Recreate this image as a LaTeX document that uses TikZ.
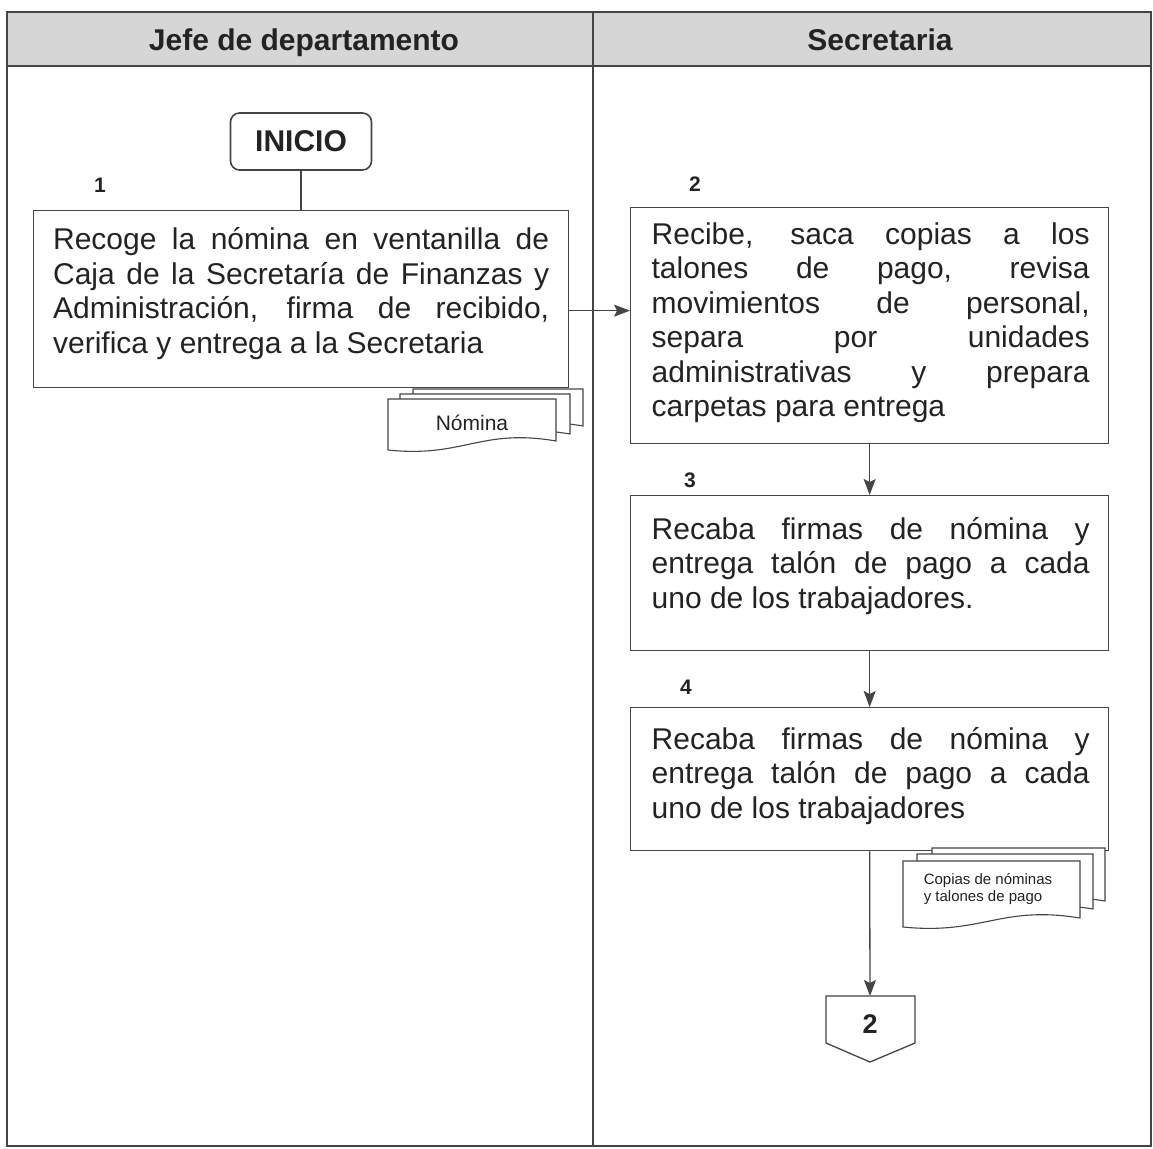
\documentclass[tikz,border=0pt]{standalone}
\usepackage{fontspec}
\setmainfont{Liberation Sans}
\usetikzlibrary{arrows.meta}
\definecolor{ink}{HTML}{454545}
\definecolor{txt}{HTML}{232323}
\definecolor{hdr}{HTML}{D6D6D6}
\newcommand\docsheet[4]{% L, T, R, B (bottom at left)
  \filldraw[fill=white, draw=ink, line width=1.1pt]
    (#1,#2) -- (#3,#2) -- (#3,#4-9)
    .. controls ({#1+0.55*(#3-#1)},#4-22) and ({#1+0.45*(#3-#1)},#4+8) .. (#1,#4) -- cycle;}
\begin{document}
\begin{tikzpicture}[x=1pt,y=-1pt,
  frame/.style={draw=ink, line width=1.4pt},
  box/.style={rectangle, draw=ink, line width=1.3pt, fill=white, anchor=north west, inner sep=0pt},
  boxtxt/.style={align=justify, inner sep=0pt, text=txt, font=\fontsize{30}{34.5}\selectfont},
  hdrtxt/.style={font=\fontsize{30}{34}\selectfont\bfseries, text=txt, anchor=base},
  num/.style={font=\fontsize{21}{24}\selectfont\bfseries, text=txt},
  arrow/.style={draw=ink, line width=1.3pt, -{Stealth[length=16pt,width=12pt,inset=3pt]}},
  conn/.style={draw=ink, line width=1.3pt}
]
\useasboundingbox (0,0) rectangle (1153,1148);
% lanes
\fill[hdr] (7,12) rectangle (1152,66);
\draw[frame] (7,12) rectangle (1151,1146);
\draw[frame] (7,66) -- (1151,66);
\draw[frame] (593,12) -- (593,1146);
\node[hdrtxt] (h1) at (304,51) {Jefe de departamento};
\node[hdrtxt] (h2) at (880,51) {Secretaria};

% start
\node[rectangle, rounded corners=9pt, draw=ink, line width=1.6pt, minimum width=141pt,
  minimum height=57pt, font=\fontsize{30}{34}\selectfont\bfseries, text=txt]
  (inicio) at (301,141.5) {INICIO};

% step 1
\node[num] (n1) at (100,185) {1};
\node[box, minimum width=535pt, minimum height=177pt] (b1) at (33,210) {};
\node[boxtxt, text width=496pt] (t1) at ([yshift=5.5pt]b1.center)
  {Recoge la nómina en ventanilla de\linebreak Caja de la Secretaría de Finanzas y\linebreak Administración, firma de recibido,\linebreak verifica y entrega a la Secretaria};

\docsheet{413}{389}{583}{435}
\docsheet{400}{394}{570}{443}
\docsheet{388}{399}{556}{450}
\node[font=\fontsize{21}{24}\selectfont, text=txt] (nom) at (472,423) {Nómina};

% step 2
\node[num] (n2) at (695,184) {2};
\node[box, minimum width=478pt, minimum height=236pt] (b2) at (630,207) {};
\node[boxtxt, text width=438pt] (t2) at ([xshift=1pt,yshift=3pt]b2.center)
  {Recibe, saca copias a los\linebreak talones de pago, revisa\linebreak movimientos de personal,\linebreak separa por unidades\linebreak administrativas y prepara\linebreak carpetas para entrega};

% step 3
\node[num] (n3) at (690,480) {3};
\node[box, minimum width=478pt, minimum height=155pt] (b3) at (630,495) {};
\node[boxtxt, text width=438pt] (t3) at ([xshift=1pt,yshift=7.5pt]b3.center)
  {Recaba firmas de nómina y\linebreak entrega talón de pago a cada\linebreak uno de los trabajadores.};

% step 4
\node[num] (n4) at (686,687) {4};
\node[box, minimum width=478pt, minimum height=143pt] (b4) at (630,707) {};
\node[boxtxt, text width=438pt] (t4) at ([xshift=1pt,yshift=3.5pt]b4.center)
  {Recaba firmas de nómina y\linebreak entrega talón de pago a cada\linebreak uno de los trabajadores};

\docsheet{932}{848}{1105}{910}
\docsheet{917}{854}{1093}{918}
\docsheet{903}{861}{1080}{927}
\node[font=\fontsize{15}{17}\selectfont, text=txt, align=left] (cop) at (988,889)
  {Copias de nóminas\\y talones de pago};

% off-page connector
\draw[conn, fill=white] (826,996) -- (915,996) -- (915,1043) -- (870,1062) -- (826,1043) -- cycle;
\coordinate (c2top) at (870,996);
\node[font=\fontsize{27}{30}\selectfont\bfseries, text=txt] (c2) at (870,1024) {2};

% connectors
\draw[conn] (inicio.south) -- (inicio.south |- b1.north);
\coordinate (a1) at ([yshift=-11.5pt]b1.east);
\draw[arrow] (a1) -- (a1 -| b2.west);
\draw[arrow] (b2.south) -- (b3.north);
\draw[arrow] (b3.south) -- (b4.north);
\draw[arrow] (b4.south) -- (c2top);
\end{tikzpicture}
\end{document}
